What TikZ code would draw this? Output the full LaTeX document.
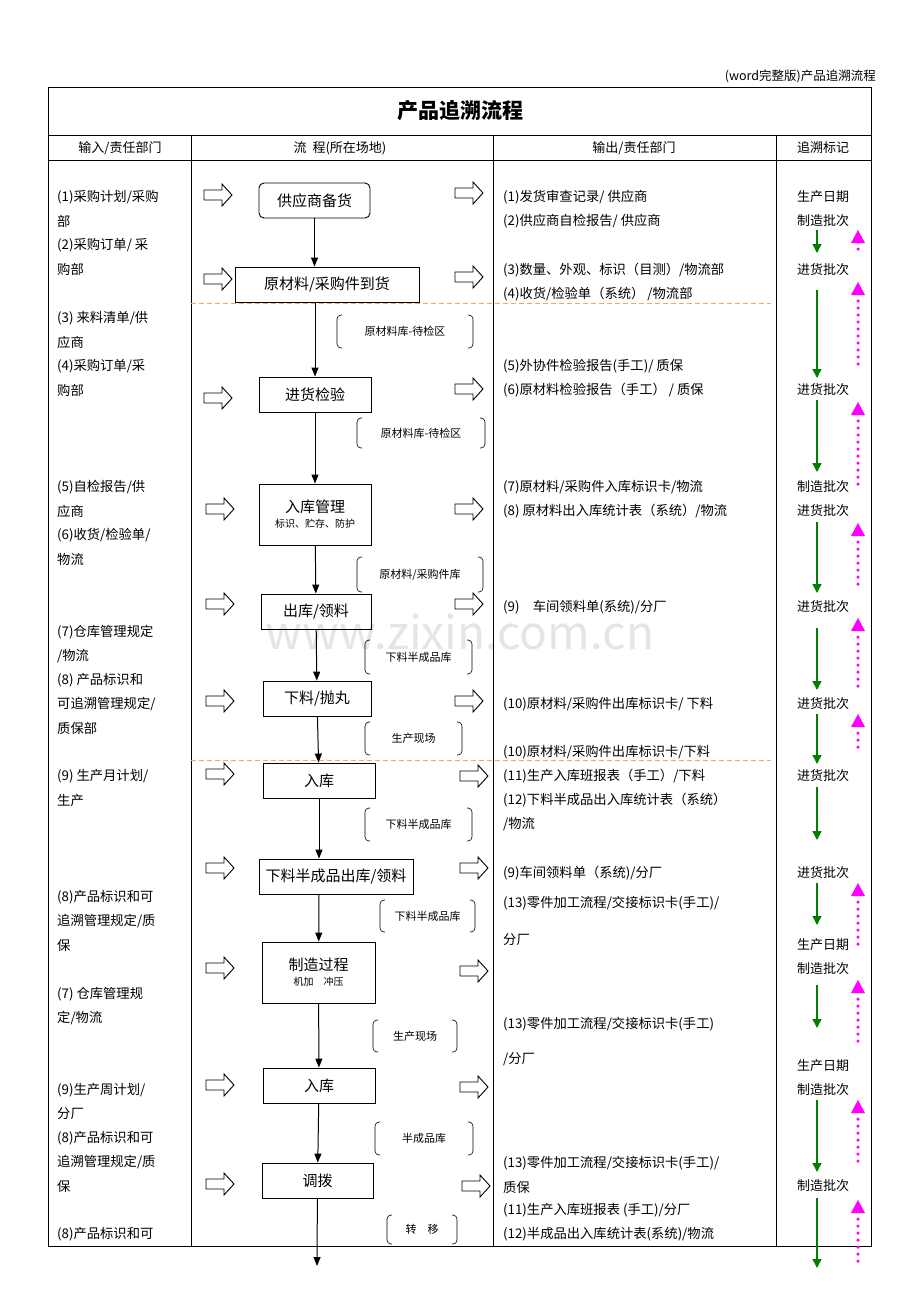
\documentclass[tikz,border=0pt]{standalone}
\usepackage{fontspec}
\setmainfont{Noto Sans CJK SC}
\usetikzlibrary{arrows.meta}
\definecolor{mag}{RGB}{255,0,255}
\definecolor{grn}{RGB}{0,128,0}
\begin{document}
\begin{tikzpicture}[x=1pt,y=-1pt,
  box/.style={draw,line width=0.9pt,inner sep=0pt,font=\fontsize{15}{17}\selectfont,align=center},
  flow/.style={-{Triangle[length=9pt,width=7pt]},line width=1pt},
  harrow/.style={draw,line width=0.9pt,fill=white},
  brk/.style={draw,line width=0.6pt,rounded corners=4pt},
  lt/.style={anchor=west,inner sep=0pt,font=\fontsize{13.3}{15}\selectfont},
  tt/.style={inner sep=0pt,font=\fontsize{13}{15}\selectfont},
  loc/.style={inner sep=0pt,font=\fontsize{11}{13}\selectfont},
  garr/.style={-{Triangle[length=9pt,width=9pt]},line width=1.4pt,draw=grn},
  marr/.style={mag,line width=3.5pt,line cap=round,dash pattern=on 0pt off 7pt},
  mtip/.style={fill=mag,draw=none}]
\useasboundingbox (0,0) rectangle (920,1302);
\fill[white] (0,0) rectangle (920,1302);
% watermark
\node[text=black!10,font=\fontsize{46}{50}\selectfont] (wm) at (460,632) {www.zixin.com.cn};
\node[anchor=east,inner sep=0pt,font=\fontsize{12.5}{14}\selectfont] (hdr) at (876,76) {(word完整版)产品追溯流程};
% table
\draw[line width=0.7pt] (48,87) rectangle (871,1246);
\draw[line width=0.7pt] (48,135) -- (871,135) (48,160) -- (871,160);
\draw[line width=0.7pt] (191,135) -- (191,1246) (493,135) -- (493,1246) (776,135) -- (776,1246);
\draw[orange!70,line width=1pt,dash pattern=on 5pt off 3pt] (191,303) -- (771,303) (191,760) -- (771,760);
\node[font=\fontsize{21}{24}\selectfont\bfseries] (title) at (460,111) {产品追溯流程};
\node[tt] (h1) at (120,148) {输入/责任部门};
\node[tt] (h2) at (340,148) {流\ \ 程(所在场地)};
\node[tt] (h3) at (634,148) {输出/责任部门};
\node[tt] (h4) at (823,148) {追溯标记};
% flow boxes
\node[box,rounded corners=5pt,minimum width=111,minimum height=35] (n1) at (314.5,200.5) {供应商备货};
\node[box,minimum width=184,minimum height=35] (n2) at (327,284.5) {原材料/采购件到货};
\node[box,minimum width=112,minimum height=35] (n3) at (315,394.5) {进货检验};
\node[box,minimum width=112,minimum height=61] (n4) at (315,514.5) {入库管理\\[-2pt]{\fontsize{10}{12}\selectfont 标识、贮存、防护}};
\node[box,minimum width=110,minimum height=35] (n5) at (316,611.5) {出库/领料};
\node[box,minimum width=108,minimum height=35] (n6) at (317,698.5) {下料/抛丸};
\node[box,minimum width=112,minimum height=35] (n7) at (319,780.5) {入库};
\node[box,minimum width=154,minimum height=35] (n8) at (336,876.5) {下料半成品出库/领料};
\node[box,minimum width=113,minimum height=61] (n9) at (318.5,972.5) {制造过程\\[-2pt]{\fontsize{10}{12}\selectfont 机加\quad 冲压}};
\node[box,minimum width=112,minimum height=35] (n10) at (319,1085.5) {入库};
\node[box,minimum width=111,minimum height=35] (n11) at (317.5,1180.5) {调拨};
\coordinate (end) at (317,1266);
\draw[flow] (n1) -- (n1|-n2.north);
\draw[flow] (n3|-n2.south) -- (n3);
\draw[flow] (n3) -- (n4);
\draw[flow] (n4) -- (n5);
\draw[flow] (n5) -- (n6);
\draw[flow] (n6) -- (n7);
\draw[flow] (n7) -- (n7|-n8.north);
\draw[flow] (n7|-n8.south) -- (n9);
\draw[flow] (n9) -- (n10);
\draw[flow] (n10) -- (n11);
\draw[flow] (n11) -- (end);
% location brackets
\foreach \a/\b/\c/\d/\t [count=\i] in {337/315/473/348/{原材料库-待检区},357/418/485/448/{原材料库-待检区},357/557/483/592/{原材料/采购件库},365/640/472/674/{下料半成品库},365/722/462/755/{生产现场},365/808/472/841/{下料半成品库},380/900/475/932/{下料半成品库},373/1020/457/1052/{生产现场},375/1122/473/1155/{半成品库},387/1215/457/1244/{转\quad 移}}{
  \draw[brk] (\a+5,\b) -- (\a,\b) -- (\a,\d) -- (\a+5,\d);
  \draw[brk] (\c-5,\b) -- (\c,\b) -- (\c,\d) -- (\c-5,\d);
  \node[loc] (loc\i) at ({(\a+\c)/2},{(\b+\d)/2}) {\t};
}
% hollow arrows
\foreach \x/\y in {204/195,204/279,204/398,206/509,206/604,206/701,206/774,206/868,206/968,206/1085,206/1184,455/193,455/277,455/389,455/509,455/604,455/701,460/776,460/868,460/971,460/1087,462/1186}{
  \draw[harrow] (\x,\y-5) -- (\x+18,\y-5) -- (\x+18,\y-11) -- (\x+28,\y) -- (\x+18,\y+11) -- (\x+18,\y+5) -- (\x,\y+5) -- cycle;
}
% left column
\foreach \y/\t [count=\i] in {197/{(1)采购计划/采购},221/{部},245/{(2)采购订单/ 采},269/{购部},318/{(3) 来料清单/供},342/{应商},366/{(4)采购订单/采},390/{购部},487/{(5)自检报告/供},511/{应商},535/{(6)收货/检验单/},559/{物流},632/{(7)仓库管理规定},656/{/物流},680/{(8) 产品标识和},704/{可追溯管理规定/},728/{质保部},776/{(9) 生产月计划/},800/{生产},897/{(8)产品标识和可},921/{追溯管理规定/质},945/{保},994/{(7) 仓库管理规},1018/{定/物流},1090/{(9)生产周计划/},1114/{分厂},1138/{(8)产品标识和可},1162/{追溯管理规定/质},1186/{保},1234/{(8)产品标识和可}}{
  \node[lt] (L\i) at (57,\y) {\t};
}
% output column
\foreach \y/\t [count=\i] in {197/{(1)发货审查记录/ 供应商},221/{(2)供应商自检报告/ 供应商},270/{(3)数量、外观、标识（目测）/物流部},294/{(4)收货/检验单（系统） /物流部},366/{(5)外协件检验报告(手工)/ 质保},390/{(6)原材料检验报告（手工） / 质保},487/{(7)原材料/采购件入库标识卡/物流},511/{(8) 原材料出入库统计表（系统）/物流},607/{(9)\quad 车间领料单(系统)/分厂},704/{(10)原材料/采购件出库标识卡/ 下料},752/{(10)原材料/采购件出库标识卡/下料},776/{(11)生产入库班报表（手工）/下料},800/{(12)下料半成品出入库统计表（系统）},824/{/物流},873/{(9)车间领料单（系统)/分厂},903/{(13)零件加工流程/交接标识卡(手工)/},940/{分厂},1024/{(13)零件加工流程/交接标识卡(手工)},1059/{/分厂},1163/{(13)零件加工流程/交接标识卡(手工)/},1187/{质保},1210/{(11)生产入库班报表 (手工)/分厂},1234/{(12)半成品出入库统计表(系统)/物流}}{
  \node[lt] (R\i) at (503,\y) {\t};
}
% trace column
\foreach \y/\t [count=\i] in {197/生产日期,221/制造批次,270/进货批次,390/进货批次,487/制造批次,511/进货批次,607/进货批次,704/进货批次,776/进货批次,873/进货批次,945/生产日期,969/制造批次,1066/生产日期,1090/制造批次,1186/制造批次}{
  \node[tt] (T\i) at (823,\y) {\t};
}
\foreach \a/\b in {230/253,290/378,400/472,522/593,628/690,714/764,787/840,883/925,985/1028,1100/1172,1198/1268}{
  \draw[garr] (817,\a) -- (817,\b);
}
\foreach \a/\b in {230/232,282/368,402/490,523/585,618/690,714/752,883/945,980/1045,1100/1165,1200/1262}{
  \fill[mtip] (851,\a+13) -- (865,\a+13) -- (858,\a) -- cycle;
  \draw[marr] (858,\a+19) -- (858,\b);
}
\end{tikzpicture}
\end{document}
